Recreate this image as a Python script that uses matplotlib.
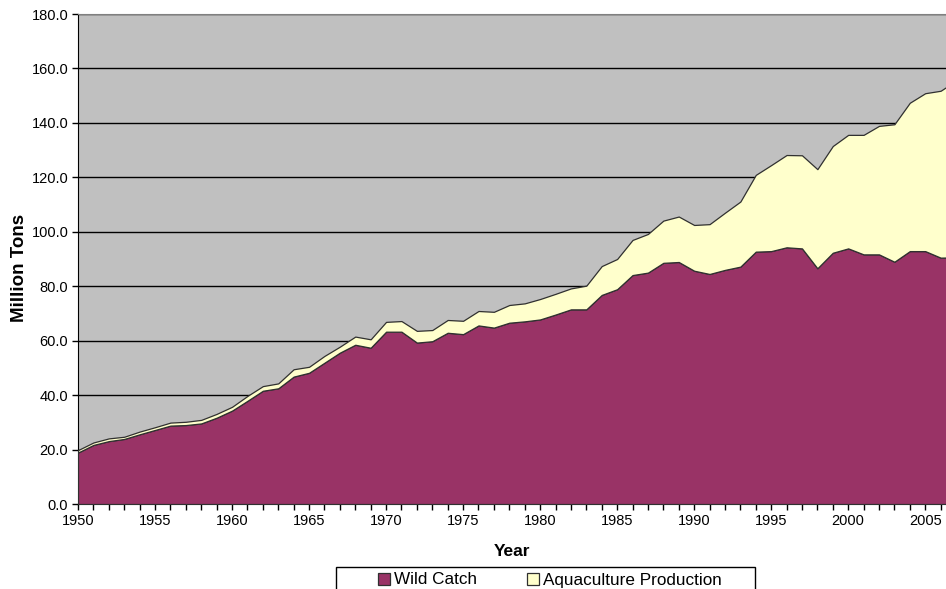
import matplotlib
matplotlib.use("Agg")
import matplotlib.pyplot as plt
from matplotlib.patches import Rectangle, Patch
import numpy as np

plt.rcParams['font.family'] = ['Liberation Sans', 'DejaVu Sans']

# values (million tons)
years = list(range(1950, 2008))
wild_catch = [18.9, 21.7, 23.1, 23.9, 25.6, 27.2, 28.8, 29.0, 29.6, 31.7,
              34.3, 37.9, 41.6, 42.5, 46.8, 48.2, 51.9, 55.6, 58.5, 57.4,
              63.3, 63.3, 59.3, 59.8, 62.9, 62.4, 65.6, 64.8, 66.6, 67.1,
              67.8, 69.6, 71.5, 71.5, 76.8, 78.9, 84.1, 85.0, 88.6, 88.9,
              85.7, 84.5, 86.0, 87.2, 92.7, 92.9, 94.3, 93.9, 86.6, 92.3,
              93.9, 91.7, 91.7, 89.0, 92.9, 92.9, 90.5, 90.6]
aquaculture = [0.9, 0.9, 1.0, 0.8, 1.0, 1.0, 1.1, 1.2, 1.3, 1.4,
               1.4, 1.8, 1.7, 1.8, 2.7, 2.2, 2.5, 2.2, 3.0, 3.1,
               3.6, 3.9, 4.3, 4.1, 4.7, 4.9, 5.3, 5.8, 6.5, 6.6,
               7.5, 7.6, 7.7, 8.7, 10.6, 11.1, 12.9, 14.2, 15.5, 16.7,
               16.8, 18.3, 21.0, 23.9, 28.2, 31.6, 33.9, 34.2, 36.4, 39.2,
               41.7, 43.9, 47.2, 50.5, 54.5, 58.0, 61.3, 64.9]
series_names = ["Wild Catch", "Aquaculture Production"]
y_ticks = [0, 20, 40, 60, 80, 100, 120, 140, 160, 180]

colors = ["#993366", "#FFFFCC"]

W, H = 946, 589
fig = plt.figure(figsize=(W / 100, H / 100), dpi=100)
ax = fig.add_axes([78 / W, (H - 504) / H, (W - 78) / W, 490 / H])
ax.set_facecolor("#C0C0C0")

ax.stackplot(years, wild_catch, aquaculture, colors=colors,
             edgecolor="#303030", linewidth=0.9, zorder=3)

ax.set_xlim(1950, 2006.35)
ax.set_ylim(0, 180)
ax.set_yticks(y_ticks)
ax.set_yticklabels(["%.1f" % v for v in y_ticks], fontsize=10.5)
ax.set_xticks(np.arange(1950, 2007, 1), minor=True)
ax.set_xticks(np.arange(1950, 2006, 5))
ax.set_xticklabels([str(y) for y in range(1950, 2006, 5)], fontsize=10.5)
ax.tick_params(axis="x", which="both", direction="out", length=4, width=1, pad=3)
ax.tick_params(axis="y", direction="out", length=4, width=1, pad=3)

ax.grid(axis="y", color="black", linewidth=1, zorder=1)
ax.set_axisbelow(True)
ax.spines["right"].set_visible(False)
ax.spines["top"].set_color("#808080")
ax.spines["top"].set_linewidth(0.8)
ax.spines["left"].set_color("black")
ax.spines["bottom"].set_color("black")

ax.set_ylabel("Million Tons", fontsize=13.5, fontweight="bold")
ax.yaxis.set_label_coords(-0.058, 0.481)
ax.set_xlabel("Year", fontsize=12.5, fontweight="bold", labelpad=12)

# legend box (cropped at bottom in the reference)
fig.patches.append(Rectangle((336 / W, -0.05), (755 - 336) / W, 0.05 + (H - 567) / H,
                             transform=fig.transFigure, facecolor="white",
                             edgecolor="black", linewidth=1, clip_on=False))
handles = [Patch(facecolor=c, edgecolor="#303030", linewidth=0.9) for c in colors]
fig.legend(handles, series_names, loc="center", bbox_to_anchor=(550 / W, (H - 580) / H),
           ncol=2, frameon=False, fontsize=12.3, handlelength=0.7, handleheight=0.7,
           handletextpad=0.25, columnspacing=2.9, borderpad=0, borderaxespad=0)

fig.savefig("out.png", dpi=100)
